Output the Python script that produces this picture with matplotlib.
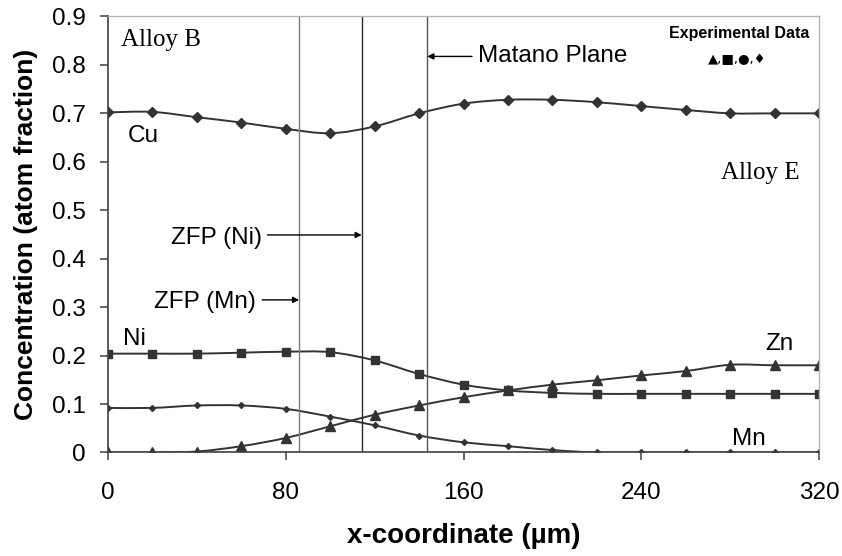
"""
Concentration profiles across the Alloy B / Alloy E diffusion couple
"""

import matplotlib
matplotlib.use("Agg")
import matplotlib.pyplot as plt
from matplotlib.path import Path
from matplotlib.patches import PathPatch
import numpy as np

# distance (um), every 20 um
x_um = [0, 20, 40, 60, 80, 100, 120, 140, 160, 180, 200, 220, 240, 260, 280, 300, 320]

cu = [0.702, 0.703, 0.692, 0.681, 0.668, 0.659, 0.673, 0.700, 0.720, 0.728,
      0.728, 0.723, 0.715, 0.707, 0.700, 0.700, 0.700]
ni = [0.204, 0.204, 0.204, 0.206, 0.208, 0.207, 0.190, 0.162, 0.140, 0.128,
      0.123, 0.121, 0.121, 0.121, 0.121, 0.121, 0.121]
zn = [0.000, 0.000, 0.002, 0.013, 0.030, 0.054, 0.078, 0.097, 0.114, 0.128,
      0.140, 0.149, 0.159, 0.168, 0.181, 0.180, 0.180]
mn = [0.092, 0.092, 0.097, 0.097, 0.090, 0.074, 0.056, 0.035, 0.021, 0.013,
      0.005, 0.000, 0.000, 0.000, 0.000, 0.000, 0.000]

# zero flux planes and Matano plane (um)
zfp_mn = 86.0
zfp_ni = 114.2
matano = 143.7

x_ticks = [0, 80, 160, 240, 320]
y_ticks = [0, 0.1, 0.2, 0.3, 0.4, 0.5, 0.6, 0.7, 0.8, 0.9]


def smooth_path(xs, ys, t=1.0 / 6):
    # Excel-style smoothed line: cubic bezier segments through the points
    p = np.column_stack([xs, ys]).astype(float)
    verts = [p[0]]
    codes = [Path.MOVETO]
    n = len(p)
    for i in range(n - 1):
        p0 = p[i - 1] if i > 0 else p[i]
        p3 = p[i + 2] if i + 2 < n else p[i + 1]
        c1 = p[i] + (p[i + 1] - p0) * t
        c2 = p[i + 1] - (p3 - p[i]) * t
        verts += [c1, c2, p[i + 1]]
        codes += [Path.CURVE4] * 3
    return Path(verts, codes)


plt.rcParams["font.family"] = ["Liberation Sans", "DejaVu Sans"]

fig = plt.figure(figsize=(8.42, 5.56), dpi=100)
ax = fig.add_axes([0.1283, 0.1862, 0.8444, 0.7842])

line_col = "#333333"
series = [(cu, "D", 5), (ni, "s", 6), (zn, "^", 7), (mn, "D", 3)]
for ys, mk, ms in series:
    ax.add_patch(PathPatch(smooth_path(x_um, ys), fill=False, edgecolor=line_col, lw=1.4))
    ax.plot(x_um, ys, ls="none", marker=mk, ms=ms, mfc=line_col, mec=line_col)

# vertical reference planes
ax.vlines(zfp_mn, 0, 0.9, color="#7a7a7a", lw=1.0)
ax.vlines(zfp_ni, 0, 0.9, color="#2a2a2a", lw=1.0)
ax.vlines(matano, 0, 0.9, color="#555555", lw=1.0)

ax.set_xlim(0, 320)
ax.set_ylim(0, 0.9)
ax.set_xticks(x_ticks)
ax.set_yticks(y_ticks)
ax.set_yticklabels(["0" if v == 0 else f"{v:.1f}" for v in y_ticks])

for s in ["left", "bottom"]:
    ax.spines[s].set_color("#404040")
    ax.spines[s].set_linewidth(1.2)
for s in ["top", "right"]:
    ax.spines[s].set_color("#b5b5b5")
    ax.spines[s].set_linewidth(1.0)

ax.tick_params(axis="both", direction="out", length=6, width=1.1, color="#404040",
               labelsize=17.5, labelcolor="black")
ax.tick_params(axis="y", pad=10)
ax.tick_params(axis="x", pad=15)

ax.set_ylabel("Concentration (atom fraction)", fontsize=19, fontweight="bold", labelpad=10)
ax.set_xlabel("x-coordinate (µm)", fontsize=20, fontweight="bold", labelpad=14)

# element labels
fs = 17.5
ax.text(9, 0.6405, "Cu", fontsize=fs, va="baseline")
ax.text(6.75, 0.221, "Ni", fontsize=fs, va="baseline")
ax.text(295.7, 0.2106, "Zn", fontsize=fs, va="baseline")
ax.text(281, 0.0145, "Mn", fontsize=fs, va="baseline")

# alloy names
ax.text(5.7, 0.840, "Alloy B", fontsize=18, family="Liberation Serif", va="baseline")
ax.text(275.7, 0.564, "Alloy E", fontsize=18, family="Liberation Serif", va="baseline")

# plane annotations
arrow = dict(arrowstyle="-|>", color="black", lw=1.0, mutation_scale=9,
             shrinkA=0, shrinkB=0)
ax.annotate("", xy=(zfp_ni, 0.449), xytext=(71.8, 0.449), arrowprops=arrow)
ax.text(69.5, 0.431, "ZFP (Ni)", fontsize=fs, ha="right", va="baseline")
ax.annotate("", xy=(zfp_mn, 0.315), xytext=(69.4, 0.315), arrowprops=arrow)
ax.text(66.5, 0.299, "ZFP (Mn)", fontsize=fs, ha="right", va="baseline")
ax.annotate("", xy=(matano, 0.8175), xytext=(163.8, 0.8175), arrowprops=arrow)
ax.text(166.7, 0.806, "Matano Plane", fontsize=fs, va="baseline")

# experimental data key
ax.text(315.8, 0.855, "Experimental Data", fontsize=11.5, fontweight="bold",
        ha="right", va="baseline")
ax.text(283, 0.803, "▲,■,●,♦", fontsize=9.5, ha="center", va="baseline",
        family=["DejaVu Sans"])

fig.savefig("out.png", dpi=100)
plt.close(fig)
